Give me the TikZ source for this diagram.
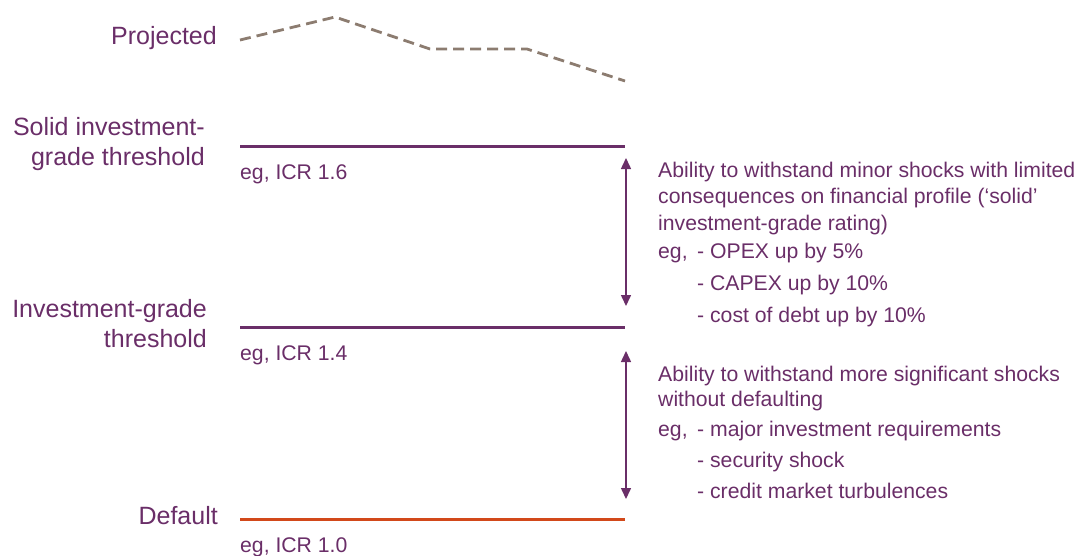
\documentclass[tikz,border=0pt]{standalone}
\usepackage{fontspec}
\setmainfont{Liberation Sans}
\usepackage{xcolor}
\usetikzlibrary{arrows.meta}

\definecolor{plum}{RGB}{106,46,104}
\definecolor{rust}{RGB}{210,73,26}
\definecolor{taupe}{RGB}{140,124,112}

\begin{document}
\begin{tikzpicture}[x=1pt,y=-1pt,
  lvl/.style={font=\fontsize{25}{29.5}\selectfont, text=plum, inner sep=0pt, align=right},
  txt/.style={font=\fontsize{21.2}{26.5}\selectfont, text=plum, inner sep=0pt, align=left},
  bar/.style={line width=3pt},
  spanarrow/.style={line width=1.5pt, plum, {Triangle[width=10pt,length=11pt]}-{Triangle[width=10pt,length=11pt]}}]
\useasboundingbox (0,0) rectangle (1082,555);

% left hand labels (base = last line)
\node[lvl, anchor=base east] (proj) at (217,44) {Projected};
\node[lvl, anchor=base east] (solid) at (205,165) {Solid investment-\\grade threshold};
\node[lvl, anchor=base east] (igrade) at (207,347) {Investment-grade\\threshold};
\node[lvl, anchor=base east] (dflt) at (218,524) {Default};

% projected path
\draw[taupe, line width=2.8pt, dash pattern=on 11pt off 6pt] (240,40) -- (335,17) -- (430,49) -- (527,49) -- (625,81);

% threshold lines
\coordinate (solidL) at (240,146);
\coordinate (solidR) at (625,146);
\coordinate (igL) at (240,327);
\coordinate (igR) at (625,327);
\coordinate (dfL) at (240,519);
\coordinate (dfR) at (625,519);
\draw[bar, plum] (solidL) -- (solidR);
\draw[bar, plum] (igL) -- (igR);
\draw[bar, rust] (dfL) -- (dfR);

\node[txt, anchor=base west] (icr16) at (240,179) {eg, ICR 1.6};
\node[txt, anchor=base west] (icr14) at (240,360) {eg, ICR 1.4};
\node[txt, anchor=base west] (icr10) at (240,552) {eg, ICR 1.0};

% ranges
\coordinate (upTop) at (626,158);
\coordinate (upBot) at (626,306);
\coordinate (loTop) at (626,351);
\coordinate (loBot) at (626,499);
\draw[spanarrow] (upTop) -- (upBot);
\draw[spanarrow] (loTop) -- (loBot);

% upper range text
\node[txt, anchor=base west] (minor) at (658,230) {Ability to withstand minor shocks with limited\\consequences on financial profile (‘solid’\\investment-grade rating)};
\node[txt, anchor=base west] (egUp) at (658,258) {eg,};
\node[txt, anchor=base west, font=\fontsize{21.2}{32}\selectfont] (listUp) at (697,322) {- OPEX up by 5\%\\- CAPEX up by 10\%\\- cost of debt up by 10\%};

% lower range text
\node[txt, anchor=base west, font=\fontsize{21.2}{25}\selectfont] (major) at (658,406) {Ability to withstand more significant shocks\\without defaulting};
\node[txt, anchor=base west] (egLo) at (658,436) {eg,};
\node[txt, anchor=base west, font=\fontsize{21.2}{31}\selectfont] (listLo) at (697,498) {- major investment requirements\\- security shock\\- credit market turbulences};
\end{tikzpicture}
\end{document}
